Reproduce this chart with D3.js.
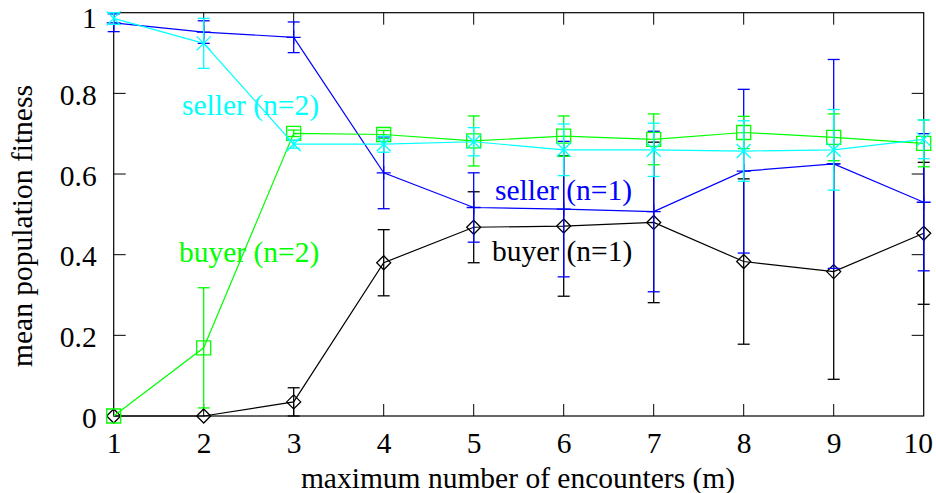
<!DOCTYPE html>
<html>
<head>
<meta charset="utf-8">
<script src="https://cdn.jsdelivr.net/npm/d3@7"></script>
<style>
  body { margin: 0; background: #fff; }
  text { font-family: "Liberation Serif", "Times New Roman", serif; }
</style>
</head>
<body>
<script>
const margin = {left: 113.7, right: 12.3, top: 12.7, bottom: 77};
const width  = 936 - margin.left - margin.right;
const height = 493 - margin.top - margin.bottom;

// data
const encounters = [1, 2, 3, 4, 5, 6, 7, 8, 9, 10];
const buyer1  = [0, 0, 0.035, 0.380, 0.468, 0.471, 0.480, 0.383, 0.358, 0.453];
const buyer1Err  = [0, 0, 0.035, 0.082, 0.088, 0.174, 0.199, 0.205, 0.267, 0.176];
const seller1 = [0.975, 0.952, 0.939, 0.603, 0.517, 0.513, 0.507, 0.607, 0.625, 0.530];
const seller1Err = [0.022, 0.028, 0.038, 0.089, 0.086, 0.168, 0.199, 0.203, 0.259, 0.170];
const buyer2  = [0, 0.169, 0.701, 0.698, 0.682, 0.694, 0.686, 0.703, 0.691, 0.676];
const buyer2Err  = [0, 0.149, 0.008, 0.01, 0.062, 0.05, 0.063, 0.04, 0.058, 0.058];
const seller2 = [0.986, 0.924, 0.674, 0.674, 0.680, 0.660, 0.660, 0.657, 0.660, 0.686];
const seller2Err = [0.015, 0.062, 0.01, 0.02, 0.035, 0.064, 0.066, 0.075, 0.1, 0.048];
const yTicks = [0, 0.2, 0.4, 0.6, 0.8, 1];

const series = [
  {name: 'buyer (n=1)',  vals: buyer1,  err: buyer1Err,  color: '#000000', mark: 'diamond', lx: 492, ly: 261},
  {name: 'seller (n=1)', vals: seller1, err: seller1Err, color: '#0000ff', mark: 'plus',    lx: 495, ly: 200},
  {name: 'buyer (n=2)',  vals: buyer2,  err: buyer2Err,  color: '#00ff00', mark: 'box',     lx: 179, ly: 262},
  {name: 'seller (n=2)', vals: seller2, err: seller2Err, color: '#00ffff', mark: 'cross',   lx: 182, ly: 115}
];

const svg = d3.select('body').append('svg')
  .attr('width', 936)
  .attr('height', 493);

const chartGroup = svg.append('g')
  .attr('transform', `translate(${margin.left},${margin.top})`);

const xScale = d3.scaleLinear().domain([1, 10]).range([0, width]);
const yScale = d3.scaleLinear().domain([0, 1]).range([height, 0]);

const tickLen = 12;
const axisFont = '29.5px';

// frame
chartGroup.append('rect')
  .attr('width', width)
  .attr('height', height)
  .attr('fill', 'none')
  .attr('stroke', '#000')
  .attr('stroke-width', 1.2);

// bottom / top ticks
const xAxis = d3.axisBottom(xScale).tickValues(encounters).tickSize(0).tickPadding(16).tickFormat(d3.format('d'));
const gx = chartGroup.append('g')
  .attr('transform', `translate(0,${height})`)
  .call(xAxis);
gx.select('.domain').remove();
gx.selectAll('text').style('font-size', axisFont).attr('fill', '#000').attr('font-family', null)
  .attr('dx', d => d === 10 ? -6 : 0);

chartGroup.append('g').selectAll('line')
  .data(encounters.slice(1, -1))
  .enter().append('line')
  .attr('x1', d => xScale(d)).attr('x2', d => xScale(d))
  .attr('y1', height).attr('y2', height - tickLen)
  .attr('stroke', '#000');
chartGroup.append('g').selectAll('line')
  .data(encounters.slice(1, -1))
  .enter().append('line')
  .attr('x1', d => xScale(d)).attr('x2', d => xScale(d))
  .attr('y1', 0).attr('y2', tickLen)
  .attr('stroke', '#000');

// left / right ticks
const yAxis = d3.axisLeft(yScale).tickValues(yTicks).tickSize(0).tickPadding(17).tickFormat(d => d3.format('')(d));
const gy = chartGroup.append('g').call(yAxis);
gy.select('.domain').remove();
gy.selectAll('text').style('font-size', axisFont).attr('fill', '#000').attr('font-family', null)
  .attr('dy', d => d === 1 ? '0.5em' : '0.38em');

chartGroup.append('g').selectAll('line')
  .data(yTicks.slice(1, -1))
  .enter().append('line')
  .attr('x1', 0).attr('x2', tickLen)
  .attr('y1', d => yScale(d)).attr('y2', d => yScale(d))
  .attr('stroke', '#000');
chartGroup.append('g').selectAll('line')
  .data(yTicks.slice(1, -1))
  .enter().append('line')
  .attr('x1', width).attr('x2', width - tickLen)
  .attr('y1', d => yScale(d)).attr('y2', d => yScale(d))
  .attr('stroke', '#000');

// axis titles
svg.append('text')
  .attr('x', 518)
  .attr('y', 488)
  .attr('text-anchor', 'middle')
  .style('font-size', axisFont)
  .text('maximum number of encounters (m)');

svg.append('text')
  .attr('transform', 'translate(32,226) rotate(-90)')
  .attr('text-anchor', 'middle')
  .style('font-size', axisFont)
  .text('mean population fitness');

// markers
const markPath = (type, s) => {
  if (type === 'diamond') return `M0,${-s}L${s},0L0,${s}L${-s},0Z`;
  if (type === 'box') return `M${-s},${-s}H${s}V${s}H${-s}Z`;
  if (type === 'plus') return `M${-s},0H${s}M0,${-s}V${s}`;
  return `M${-s},${-s}L${s},${s}M${-s},${s}L${s},${-s}`;
};

const line = d3.line()
  .x((d, i) => xScale(encounters[i]))
  .y(d => yScale(d));

const capW = 6;

series.forEach(s => {
  const g = chartGroup.append('g');
  const pts = s.vals.map((v, i) => ({x: encounters[i], v: v, e: s.err[i]}));

  // error bars
  const eb = g.selectAll('.err')
    .data(pts.filter(d => d.e > 0))
    .enter().append('g')
    .attr('class', 'err')
    .attr('stroke', s.color)
    .attr('stroke-width', 1.3);
  eb.append('line')
    .attr('x1', d => xScale(d.x)).attr('x2', d => xScale(d.x))
    .attr('y1', d => yScale(d.v - d.e)).attr('y2', d => yScale(Math.min(1, d.v + d.e)));
  eb.append('line')
    .attr('x1', d => xScale(d.x) - capW).attr('x2', d => xScale(d.x) + capW)
    .attr('y1', d => yScale(d.v - d.e)).attr('y2', d => yScale(d.v - d.e));
  eb.append('line')
    .attr('x1', d => xScale(d.x) - capW).attr('x2', d => xScale(d.x) + capW)
    .attr('y1', d => yScale(Math.min(1, d.v + d.e))).attr('y2', d => yScale(Math.min(1, d.v + d.e)));

  g.append('path')
    .datum(s.vals)
    .attr('d', line)
    .attr('fill', 'none')
    .attr('stroke', s.color)
    .attr('stroke-width', 1.2);

  g.selectAll('.pt')
    .data(pts)
    .enter().append('path')
    .attr('class', 'pt')
    .attr('transform', d => `translate(${xScale(d.x)},${yScale(d.v)})`)
    .attr('d', markPath(s.mark, 7))
    .attr('fill', 'none')
    .attr('stroke', s.color)
    .attr('stroke-width', 1.3);

  svg.append('text')
    .attr('x', s.lx)
    .attr('y', s.ly)
    .attr('fill', s.color)
    .style('font-size', axisFont)
    .text(s.name);
});
</script>
</body>
</html>
